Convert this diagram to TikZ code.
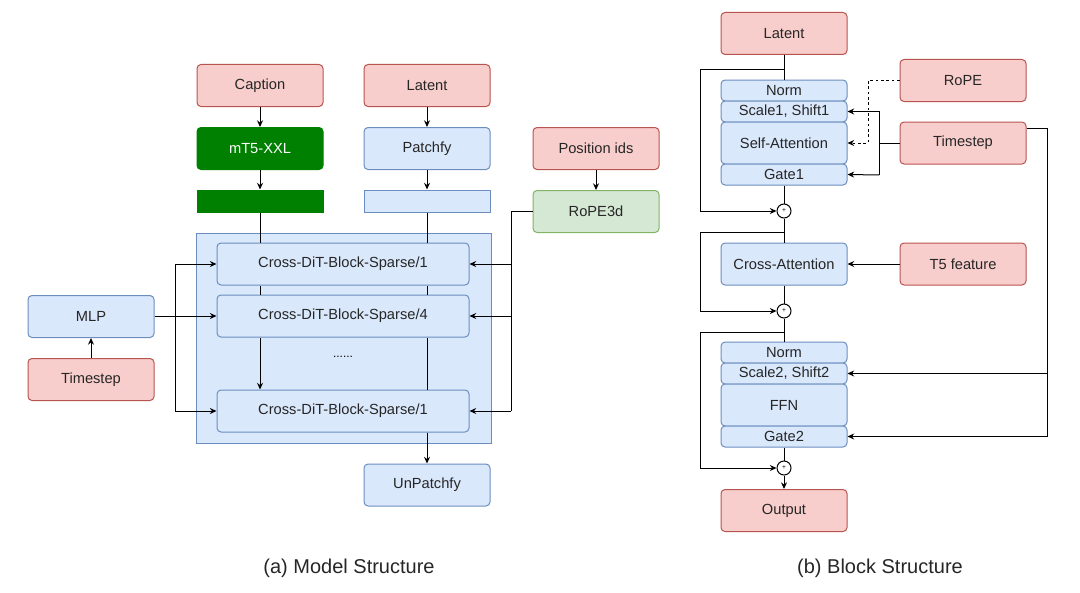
\documentclass[tikz,border=0pt]{standalone}
\usepackage{fontspec}
\setmainfont{Liberation Sans}
\usetikzlibrary{arrows.meta}

\definecolor{redFill}{RGB}{248,206,204}
\definecolor{redLine}{RGB}{184,84,80}
\definecolor{blueFill}{RGB}{218,232,252}
\definecolor{blueLine}{RGB}{108,142,191}
\definecolor{greenFill}{RGB}{213,232,212}
\definecolor{greenLine}{RGB}{130,179,102}
\definecolor{darkGreen}{RGB}{0,128,0}

\tikzset{every picture/.style={line width=0.75pt}}
\tikzset{
  box/.style={draw, rounded corners=3pt, minimum width=94.5pt, minimum height=31.5pt, inner sep=0pt, font=\fontsize{11}{13}\selectfont, text=black!85},
  redbox/.style={box, fill=redFill, draw=redLine},
  bluebox/.style={box, fill=blueFill, draw=blueLine},
  thinbox/.style={bluebox, minimum height=15.75pt},
  plus/.style={draw, circle, fill=white, minimum size=10.5pt, inner sep=0pt, font=\tiny},
  arr/.style={-{Stealth[length=5pt,width=4.5pt]}}
}

\begin{document}
\begin{tikzpicture}[x=0.75pt,y=0.75pt,yscale=-1,xscale=1]
    \useasboundingbox (0,0) rectangle (1080,592);

    % (a) model structure
    \draw [fill=blueFill, draw=blueLine] (196,233) rectangle (491,443);
    \node [redbox] (caption) at (260,85.5) {Caption};
    \node [box, fill=darkGreen, draw=darkGreen, text=white] (mtf) at (260,148.5) {mT5-XXL};
    \node [draw=darkGreen, fill=darkGreen, minimum width=94.5pt, minimum height=16.5pt, inner sep=0pt] (gbar) at (260,201) {};
    \node [redbox] (latentA) at (427,85.5) {Latent};
    \node [bluebox] (patch) at (427,148.5) {Patchfy};
    \node [draw=blueLine, fill=blueFill, minimum width=94.5pt, minimum height=16.5pt, inner sep=0pt] (bbar) at (427,201) {};
    \node [redbox] (posid) at (596,148.5) {Position ids};
    \node [box, fill=greenFill, draw=greenLine] (rope3d) at (596,211.5) {RoPE3d};
    \node [bluebox, minimum width=189pt] (blkA) at (343,264) {Cross-DiT-Block-Sparse/1};
    \node [bluebox, minimum width=189pt] (blkB) at (343,316) {Cross-DiT-Block-Sparse/4};
    \node [bluebox, minimum width=189pt] (blkC) at (343,411) {Cross-DiT-Block-Sparse/1};
    \node [font=\fontsize{9}{10}\selectfont] (dots) at (343,357) {......};
    \node [bluebox] (mlp) at (91,316.5) {MLP};
    \node [redbox] (tstepA) at (91,379.5) {Timestep};
    \node [bluebox] (unpatch) at (427,485) {UnPatchfy};

    \draw [arr] (caption) -- (mtf);
    \draw [arr] (mtf) -- (gbar);
    \draw (gbar.south) -- (blkA.north -| gbar.south);
    \draw (blkA.south -| gbar.south) -- (blkB.north -| gbar.south);
    \draw [arr] (blkB.south -| gbar.south) -- (blkC.north -| gbar.south);
    \draw [arr] (latentA) -- (patch);
    \draw [arr] (patch) -- (bbar);
    \draw (bbar.south) -- (blkA.north -| bbar.south);
    \draw (blkA.south -| bbar.south) -- (blkB.north -| bbar.south);
    \draw (blkB.south -| bbar.south) -- (blkC.north -| bbar.south);
    \draw [arr] (blkC.south -| bbar.south) -- (unpatch);
    \draw [arr] (posid) -- (rope3d);
    \draw (rope3d.west) -- (511,211.5) -- (511,411);
    \foreach \b in {blkA,blkB,blkC} \draw [arr] (\b.east -| 511,0) -- (\b.east);
    \draw [arr] (tstepA) -- (mlp);
    \draw (mlp.east) -- (175,316.5);
    \draw (175,264) -- (175,411);
    \foreach \b in {blkA,blkB,blkC} \draw [arr] (\b.west -| 175,0) -- (\b.west);

    % (b) block structure
    \node [redbox] (latentB) at (784,33.5) {Latent};
    \node [thinbox] (norm1) at (784,90.5) {Norm};
    \node [thinbox] (ss1) at (784,111.5) {Scale1, Shift1};
    \node [bluebox] (selfatt) at (784,143) {Self-Attention};
    \node [thinbox] (gate1) at (784,174.5) {Gate1};
    \node [plus] (plus1) at (784,211) {+};
    \node [bluebox] (crossatt) at (784,264) {Cross-Attention};
    \node [plus] (plus2) at (784,311) {+};
    \node [thinbox] (norm2) at (784,352.5) {Norm};
    \node [thinbox] (ss2) at (784,373.5) {Scale2, Shift2};
    \node [bluebox] (ffn) at (784,405) {FFN};
    \node [thinbox] (gate2) at (784,436.5) {Gate2};
    \node [plus] (plus3) at (784,468) {+};
    \node [redbox] (output) at (784,510.5) {Output};
    \node [redbox] (rope) at (963,80.5) {RoPE};
    \node [redbox] (tstepB) at (963,143) {Timestep};
    \node [redbox] (tfive) at (963,264) {T5 feature};

    \draw (latentB) -- (norm1);
    \draw (gate1) -- (plus1);
    \draw (plus1) -- (crossatt);
    \draw (crossatt) -- (plus2);
    \draw (plus2) -- (norm2);
    \draw (gate2) -- (plus3);
    \draw [arr] (plus3) -- (output);
    \draw [arr] (784,70) -- (700,70) -- (700,211) -- (plus1);
    \draw [arr] (784,232) -- (700,232) -- (700,311) -- (plus2);
    \draw [arr] (784,332) -- (700,332) -- (700,468) -- (plus3);
    \draw [arr, dash pattern=on 2pt off 2pt, line width=0.6pt] (rope.west) -- (868,80.5) -- (868,143) -- (selfatt.east);
    \draw (tstepB.west) -- (879,143);
    \draw [arr] (879,175) -- (879,111.5) -- (ss1.east);
    \draw [arr] (879,175) -- (gate1.east);
    \draw [arr] (tfive.west) -- (crossatt.east);
    \draw [arr] (tstepB.east |- 0,128) -- (1047,128) -- (1047,436.5) -- (gate2.east);
    \draw [arr] (1047,373.5) -- (ss2.east);

    % captions
    \node [font=\fontsize{15}{18}\selectfont, text=black!85] (capA) at (349,568) {(a) Model Structure};
    \node [font=\fontsize{15}{18}\selectfont, text=black!85] (capB) at (880,568) {(b) Block Structure};
\end{tikzpicture}
\end{document}
